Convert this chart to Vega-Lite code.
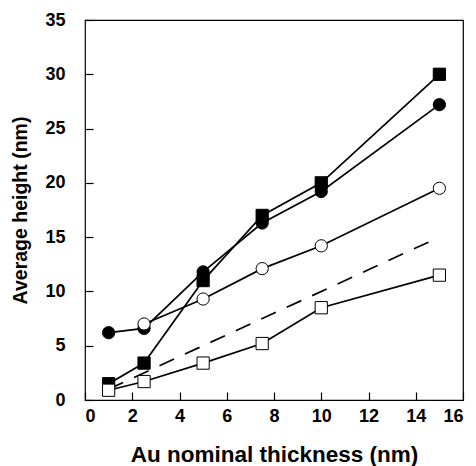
{
  "$schema": "https://vega.github.io/schema/vega-lite/v6.json",
  "width": 378,
  "height": 380,
  "autosize": {"type": "none"},
  "padding": {"left": 85, "top": 20, "right": 13, "bottom": 66},
  "config": {
    "view": {"stroke": "black", "strokeWidth": 1.2},
    "font": "Liberation Sans",
    "axis": {
      "grid": false,
      "domain": false,
      "tickColor": "black",
      "tickSize": -8,
      "tickWidth": 1.2,
      "labelFont": "Liberation Sans",
      "labelFontWeight": "bold",
      "labelFontSize": 18,
      "labelColor": "black",
      "titleFont": "Liberation Sans",
      "titleFontWeight": "bold",
      "titleColor": "black"
    }
  },
  "data": {
    "values": [
      {"x": 1, "y": 1.5, "s": "fsq"},
      {"x": 2.5, "y": 3.4, "s": "fsq"},
      {"x": 5, "y": 11, "s": "fsq"},
      {"x": 7.5, "y": 17, "s": "fsq"},
      {"x": 10, "y": 20, "s": "fsq"},
      {"x": 15, "y": 30, "s": "fsq"},
      {"x": 1, "y": 6.2, "s": "fci"},
      {"x": 2.5, "y": 6.6, "s": "fci"},
      {"x": 5, "y": 11.8, "s": "fci"},
      {"x": 7.5, "y": 16.3, "s": "fci"},
      {"x": 10, "y": 19.2, "s": "fci"},
      {"x": 15, "y": 27.2, "s": "fci"},
      {"x": 2.5, "y": 7.0, "s": "oci"},
      {"x": 5, "y": 9.3, "s": "oci"},
      {"x": 7.5, "y": 12.1, "s": "oci"},
      {"x": 10, "y": 14.2, "s": "oci"},
      {"x": 15, "y": 19.5, "s": "oci"},
      {"x": 1, "y": 0.9, "s": "osq"},
      {"x": 2.5, "y": 1.7, "s": "osq"},
      {"x": 5, "y": 3.4, "s": "osq"},
      {"x": 7.5, "y": 5.2, "s": "osq"},
      {"x": 10, "y": 8.5, "s": "osq"},
      {"x": 15, "y": 11.5, "s": "osq"},
      {"x": 1, "y": 1, "s": "dash"},
      {"x": 15, "y": 15, "s": "dash"}
    ]
  },
  "encoding": {
    "x": {
      "field": "x", "type": "quantitative",
      "scale": {"domain": [0, 16], "nice": false},
      "axis": {"values": [0, 2, 4, 6, 8, 10, 12, 14, 16], "title": "Au nominal thickness (nm)", "titleFontSize": 22.5, "labelPadding": 15, "titlePadding": 18}
    },
    "y": {
      "field": "y", "type": "quantitative",
      "scale": {"domain": [0, 35], "nice": false},
      "axis": {"values": [0, 5, 10, 15, 20, 25, 30, 35], "title": "Average height (nm)", "titleFontSize": 19.5, "labelPadding": 28, "titlePadding": 14}
    }
  },
  "layer": [
    {
      "transform": [{"filter": "datum.s !== 'dash'"}],
      "mark": {"type": "line", "color": "black", "strokeWidth": 1.7},
      "encoding": {"detail": {"field": "s"}}
    },
    {
      "transform": [{"filter": "datum.s === 'dash'"}],
      "mark": {"type": "line", "color": "black", "strokeWidth": 1.7, "strokeDash": [16, 12]},
      "encoding": {}
    },
    {
      "transform": [{"filter": "datum.s !== 'dash'"}],
      "mark": {"type": "point", "filled": true, "opacity": 1, "strokeWidth": 1, "stroke": "black"},
      "encoding": {
        "shape": {"field": "s", "type": "nominal", "scale": {"domain": ["fsq", "fci", "oci", "osq"], "range": ["square", "circle", "circle", "square"]}, "legend": null},
        "fill": {"field": "s", "type": "nominal", "scale": {"domain": ["fsq", "fci", "oci", "osq"], "range": ["black", "black", "white", "white"]}, "legend": null},
        "size": {"value": 150}
      }
    }
  ]
}
